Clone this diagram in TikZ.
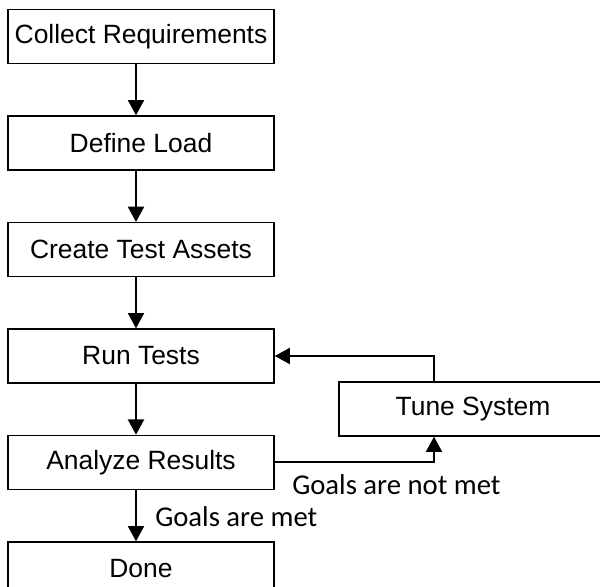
\documentclass[tikz,border=0pt]{standalone}
\usepackage{fontspec}
\setmainfont{Liberation Sans}
\newfontfamily\lblfont{Carlito}
\usetikzlibrary{arrows.meta}

\tikzset{
    stepbox/.style={draw, line width=1pt, minimum width=6.65cm, minimum height=1.35cm,
        inner sep=0pt, font=\fontsize{18.8}{22}\selectfont},
    flow/.style={line width=1.4pt, -{Triangle[width=4mm, length=3.8mm]}},
    goal/.style={inner sep=0pt, anchor=base west, font=\lblfont\fontsize{20.4}{24}\selectfont}
}

\begin{document}
\begin{tikzpicture}
    \useasboundingbox (0,0) rectangle (15,-14.675);

    % Main column
    \node[stepbox] (b1) at (3.525, -0.91) {Collect Requirements};
    \node[stepbox] (b2) at (3.525, -3.575) {Define Load};
    \node[stepbox] (b3) at (3.525, -6.24) {Create Test Assets};
    \node[stepbox] (b4) at (3.525, -8.9) {Run Tests};
    \node[stepbox] (b5) at (3.525, -11.56) {Analyze Results};
    \node[stepbox] (b6) at (3.525, -14.225) {Done};

    % Side box
    \node[stepbox, minimum width=6.7cm] (tune) at (11.825, -10.225) {Tune System};
    \coordinate (tap) at (10.85, 0);

    \foreach \i/\j in {1/2,2/3,3/4,4/5,5/6}
        \draw[flow] ([xshift=-1.25mm]b\i.south) -- ([xshift=-1.25mm]b\j.north);

    % Loop back
    \draw[flow] (b5.east) -| (tune.south -| tap);
    \draw[flow] (tune.north -| tap) |- (b4.east);

    \node[goal] (notmet) at (7.3, -12.375) {Goals are not met};
    \node[goal] (met) at (3.875, -13.175) {Goals are met};
\end{tikzpicture}
\end{document}
